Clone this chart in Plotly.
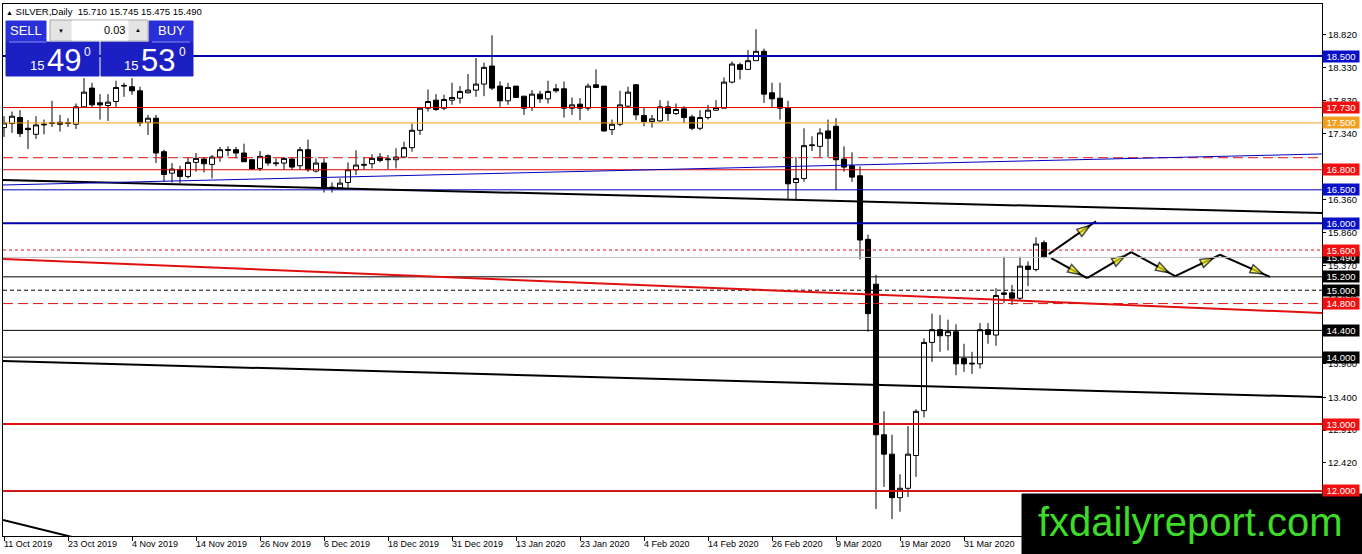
import plotly.graph_objects as go

# daily silver bars, index 0 = 11 Oct 2019
opens = [17.43, 17.49, 17.58, 17.42, 17.33, 17.47, 17.49, 17.51, 17.49, 17.48,
         17.74, 18.02, 17.80, 17.76, 17.82, 18.05, 18.04, 17.98, 17.51, 17.57,
         17.07, 16.75, 16.80, 16.70, 16.91, 16.96, 16.88, 16.99, 17.09, 17.10,
         17.05, 16.95, 16.82, 17.01, 16.89, 16.90, 16.96, 16.86, 17.10, 16.78,
         16.90, 16.54, 16.53, 16.61, 16.80, 16.88, 16.89, 16.99, 16.95, 16.95,
         16.99, 17.13, 17.39, 17.72, 17.84, 17.72, 17.84, 17.87, 17.95, 17.99,
         18.08, 18.35, 18.05, 17.83, 18.05, 17.90, 17.73, 17.93, 17.86, 18.01,
         18.01, 17.72, 17.78, 17.72, 18.07, 18.05, 17.40, 17.48, 17.75, 18.07,
         17.61, 17.52, 17.53, 17.74, 17.64, 17.71, 17.59, 17.42, 17.58, 17.69,
         17.72, 18.11, 18.37, 18.30, 18.43, 18.57, 17.95, 17.87, 17.72, 16.61,
         16.67, 17.16, 17.15, 17.38, 17.45, 16.96, 16.86, 16.71, 15.76, 15.09,
         12.84, 12.55, 11.90, 12.04, 12.53, 13.20, 14.22, 14.41, 14.32, 14.38,
         13.98, 13.91, 13.90, 14.41, 14.33, 14.96, 14.96, 14.88, 15.36, 15.31,
         15.71]
highs = [17.60, 17.67, 17.69, 17.54, 17.60, 17.55, 17.83, 17.62, 17.57, 17.79,
         18.17, 18.10, 17.93, 17.93, 18.13, 18.10, 18.17, 18.04, 17.62, 17.62,
         17.10, 16.90, 16.86, 16.99, 17.05, 16.99, 17.02, 17.14, 17.15, 17.14,
         17.19, 16.95, 17.08, 17.03, 16.97, 16.99, 16.97, 17.14, 17.25, 16.97,
         16.97, 16.61, 16.67, 16.91, 17.09, 16.99, 17.03, 17.05, 17.02, 17.12,
         17.22, 17.49, 17.73, 18.00, 17.93, 17.92, 18.10, 18.05, 18.23, 18.47,
         18.40, 18.81, 18.12, 18.10, 18.05, 17.90, 17.99, 17.98, 18.13, 18.08,
         18.12, 17.88, 17.87, 18.09, 18.30, 18.05, 17.55, 17.98, 18.04, 18.08,
         17.73, 17.62, 17.84, 17.83, 17.79, 17.75, 17.62, 17.69, 17.77, 17.84,
         18.18, 18.42, 18.40, 18.59, 18.90, 18.61, 18.10, 18.10, 17.83, 16.99,
         17.42, 17.30, 17.42, 17.55, 17.57, 17.15, 17.06, 16.85, 15.83, 15.23,
         13.19, 12.84, 12.25, 12.97, 13.22, 14.28, 14.65, 14.63, 14.56, 14.49,
         14.20, 14.08, 14.51, 14.51, 15.03, 15.50, 15.08, 15.50, 15.43, 15.79,
         15.745]
lows = [17.29, 17.35, 17.29, 17.11, 17.26, 17.33, 17.44, 17.37, 17.44, 17.41,
        17.73, 17.73, 17.55, 17.53, 17.73, 17.89, 17.92, 17.45, 17.32, 16.90,
        16.62, 16.61, 16.60, 16.67, 16.77, 16.76, 16.67, 16.92, 17.00, 16.97,
        16.92, 16.80, 16.78, 16.86, 16.85, 16.80, 16.80, 16.80, 16.77, 16.76,
        16.46, 16.46, 16.52, 16.52, 16.72, 16.80, 16.82, 16.91, 16.81, 16.82,
        16.97, 17.07, 17.32, 17.67, 17.68, 17.69, 17.77, 17.79, 17.94, 17.89,
        17.90, 17.99, 17.74, 17.77, 17.87, 17.62, 17.68, 17.80, 17.79, 17.95,
        17.58, 17.62, 17.54, 17.68, 18.02, 17.37, 17.32, 17.45, 17.73, 17.54,
        17.45, 17.43, 17.52, 17.53, 17.62, 17.50, 17.39, 17.39, 17.55, 17.68,
        17.72, 18.09, 18.15, 18.29, 18.43, 17.80, 17.73, 17.55, 16.35, 16.36,
        16.62, 17.08, 16.99, 16.99, 16.50, 16.77, 16.62, 15.46, 14.38, 11.73,
        12.06, 11.58, 11.69, 11.91, 12.21, 13.10, 13.93, 14.08, 14.10, 13.73,
        13.78, 13.75, 13.83, 14.20, 14.17, 14.81, 14.78, 14.85, 15.06, 15.28,
        15.475]
closes = [17.50, 17.60, 17.34, 17.40, 17.47, 17.48, 17.50, 17.48, 17.50, 17.74,
          17.96, 17.77, 17.77, 17.81, 18.03, 18.06, 17.98, 17.50, 17.57, 17.05,
          16.73, 16.81, 16.70, 16.91, 16.97, 16.89, 16.99, 17.10, 17.10, 17.05,
          16.92, 16.81, 17.00, 16.90, 16.90, 16.97, 16.84, 17.10, 16.80, 16.90,
          16.52, 16.53, 16.60, 16.80, 16.87, 16.87, 16.97, 16.94, 16.96, 16.99,
          17.13, 17.39, 17.72, 17.82, 17.70, 17.85, 17.88, 17.97, 17.99, 18.08,
          18.33, 18.02, 17.83, 18.03, 17.88, 17.72, 17.93, 17.86, 17.97, 17.98,
          17.72, 17.77, 17.72, 18.05, 18.03, 17.38, 17.48, 17.77, 17.96, 17.62,
          17.52, 17.56, 17.74, 17.64, 17.70, 17.58, 17.42, 17.58, 17.69, 17.73,
          18.11, 18.38, 18.30, 18.43, 18.57, 17.93, 17.86, 17.72, 16.59, 16.67,
          17.16, 17.17, 17.35, 17.27, 16.95, 16.84, 16.69, 15.75, 14.65, 12.84,
          12.55, 11.90, 12.04, 12.55, 13.19, 14.22, 14.41, 14.32, 14.38, 13.90,
          13.90, 13.90, 14.41, 14.34, 14.92, 14.94, 14.88, 15.36, 15.31, 15.69,
          15.49]

date_bars = [0, 8, 16, 24, 32, 40, 48, 56, 64, 72, 80, 88, 96, 104, 112, 120]
date_labels = ['11 Oct 2019', '23 Oct 2019', '4 Nov 2019', '14 Nov 2019', '26 Nov 2019',
               '6 Dec 2019', '18 Dec 2019', '31 Dec 2019', '13 Jan 2020', '23 Jan 2020',
               '4 Feb 2020', '14 Feb 2020', '26 Feb 2020', '9 Mar 2020', '19 Mar 2020',
               '31 Mar 2020']

price_ticks = [18.82, 18.33, 17.83, 17.34, 16.85, 16.36, 15.86, 15.37, 14.87, 14.38,
               13.90, 13.40, 12.91, 12.42]

# horizontal levels
level_prices = [18.5, 17.73, 17.5, 16.98, 16.8, 16.5, 16.0, 15.6, 15.49, 15.2, 15.0, 14.8,
                14.4, 14.0, 13.0, 12.0]
level_colors = ['#0000A8', '#E00000', '#F0A020', '#E01010', '#E00000', '#0000C0', '#0000A8',
                '#E01010', '#C0C0C0', '#000000', '#000000', '#E01010', '#000000', '#000000',
                '#E01010', '#D01818']
level_widths = [2, 1, 1, 1, 1, 1, 2, 1, 1, 1, 1, 1, 1, 1, 2, 2]
level_dashes = ['solid', 'solid', 'solid', '10px,5px', 'solid', 'solid', 'solid', '3px,3px',
                'solid', 'solid', '4px,3px', '10px,5px', 'solid', 'solid', 'solid', 'solid']
# price boxes on the right scale (level index, box colour)
tag_levels = [8, 0, 1, 2, 4, 5, 6, 7, 9, 10, 11, 12, 13, 14, 15]
tag_colors = ['#000000', '#0A10C8', '#F01010', '#F0A020', '#F01010', '#0A10C8', '#0A10C8',
              '#F01010', '#000000', '#000000', '#F01010', '#000000', '#000000', '#F01010',
              '#F01010']

# trend lines: (bar0, price0, bar1, price1)
trend_lines = [(-0.125, 16.647, 164.75, 16.154),
               (-0.125, 16.572, 164.75, 17.036),
               (-0.125, 15.467, 164.75, 14.660),
               (-0.125, 13.942, 164.75, 13.404),
               (-0.125, 11.567, 20.0, 10.973)]
trend_colors = ['#000000', '#0000C0', '#E01010', '#000000', '#000000']
trend_widths = [2, 1, 2, 2, 2]

# projected path arrows: (bar0, price0, bar1, price1)
arrows = [(130.6, 15.54, 136.5, 16.03),
          (130.9, 15.48, 135.4, 15.18),
          (135.4, 15.18, 140.9, 15.57),
          (140.9, 15.57, 146.4, 15.21),
          (146.4, 15.21, 152.0, 15.53),
          (152.0, 15.53, 158.25, 15.20)]

W, H = 1362, 554
PL, PR, PT, PB = 3, 1322, 4, 536
X_RANGE = [-0.125, 164.75]
Y_RANGE = [11.327, 19.277]
FONT = 'Liberation Sans, Arial, sans-serif'


def px(x):
    return (x - PL) / (PR - PL)


def py(y):
    return (PB - y) / (PB - PT)


fig = go.Figure()

fig.add_trace(go.Candlestick(
    x=list(range(len(opens))), open=opens, high=highs, low=lows, close=closes,
    increasing=dict(line=dict(color='black', width=1), fillcolor='white'),
    decreasing=dict(line=dict(color='black', width=1), fillcolor='black'),
    whiskerwidth=0, hoverinfo='skip', showlegend=False,
))

# arrows: black shaft + yellow head
bar_px = (PR - PL) / (X_RANGE[1] - X_RANGE[0])
price_px = (PB - PT) / (Y_RANGE[1] - Y_RANGE[0])
for x0, y0, x1, y1 in arrows:
    dx, dy = (x1 - x0) * bar_px, (y1 - y0) * price_px
    t = 1 - 7 / (dx * dx + dy * dy) ** 0.5
    fig.add_trace(go.Scatter(
        x=[x0, x1], y=[y0, y1], mode='lines',
        line=dict(color='black', width=2), hoverinfo='skip', showlegend=False))
    fig.add_trace(go.Scatter(
        x=[x0, x0 + (x1 - x0) * t], y=[y0, y0 + (y1 - y0) * t], mode='markers',
        marker=dict(symbol='arrow', size=[0, 14], color='#F5F000',
                    angleref='previous', line=dict(color='black', width=1.5)),
        hoverinfo='skip', showlegend=False))

shapes = []
for p, c, w, d in zip(level_prices, level_colors, level_widths, level_dashes):
    shapes.append(dict(type='line', xref='paper', yref='y', x0=0, x1=1, y0=p, y1=p,
                       line=dict(color=c, width=w, dash=d), layer='above'))
for (x0, y0, x1, y1), c, w in zip(trend_lines, trend_colors, trend_widths):
    shapes.append(dict(type='line', xref='x', yref='y', x0=x0, y0=y0, x1=x1, y1=y1,
                       line=dict(color=c, width=w), layer='above'))


def box(x0, y0, x1, y1, fill, line=None):
    shapes.append(dict(type='rect', xref='paper', yref='paper',
                       x0=px(x0), x1=px(x1), y0=py(y1), y1=py(y0), fillcolor=fill,
                       line=dict(color=line or fill, width=1), layer='above'))


# one-click trading panel
box(6, 21, 46, 42, '#2A30D8')
box(149, 21, 193, 42, '#2A30D8')
box(6, 42, 99, 76, '#1C20C4')
box(101, 42, 193, 76, '#1C20C4')
box(50, 20, 148, 41, '#E4E4E4', '#A8A8A8')
box(72, 21, 128, 40, '#FFFFFF', '#FFFFFF')
shapes.append(dict(type='line', xref='paper', yref='paper', x0=px(9), x1=px(46),
                   y0=py(42), y1=py(42), line=dict(color='#8890F0', width=1), layer='above'))
shapes.append(dict(type='line', xref='paper', yref='paper', x0=px(152), x1=px(190),
                   y0=py(42), y1=py(42), line=dict(color='#8890F0', width=1), layer='above'))

# watermark box
box(1022, 494, 1362, 554, '#000000')

annotations = []


def label(text, x, y, size, color='black', family=FONT, xanchor='center'):
    annotations.append(dict(text=text, xref='paper', yref='paper', x=px(x), y=py(y),
                            xanchor=xanchor, yanchor='middle', showarrow=False,
                            font=dict(size=size, color=color, family=family)))


label("<span style='font-size:7px'>▲</span> SILVER,Daily  15.710 15.745 15.475 15.490",
      4, 11, 9.5, xanchor='left')
label('SELL', 26, 31, 13, 'white')
label('BUY', 171, 31, 13, 'white')
label('0.03', 127, 30, 11, 'black', FONT, 'right')
label('▼', 61, 31, 6, 'black')
label('▲', 138, 30, 6, 'black')
label('15', 37, 65, 13, 'white')
label('49', 64, 60, 31, 'white')
label('0', 87, 52, 12, 'white')
label('15', 131, 65, 13, 'white')
label('53', 158, 60, 31, 'white')
label('0', 182, 52, 12, 'white')

for b, t in zip(date_bars, date_labels):
    annotations.append(dict(text=t, xref='x', yref='paper', x=b, y=0, xanchor='left',
                            yanchor='top', xshift=-2, yshift=-1, showarrow=False,
                            font=dict(size=9, color='black', family=FONT)))

for idx, c in zip(tag_levels, tag_colors):
    annotations.append(dict(text='%.3f' % level_prices[idx], xref='paper', yref='y', x=1,
                            y=level_prices[idx], xanchor='left', yanchor='middle',
                            showarrow=False, bgcolor=c, width=36, height=11, borderpad=0,
                            align='center', font=dict(size=9.5, color='white', family=FONT)))

annotations.append(dict(text='fxdailyreport.com', xref='paper', yref='paper',
                        x=px(1190), y=py(522), xanchor='center', yanchor='middle',
                        showarrow=False,
                        font=dict(size=40, color='#3CDC28', family=FONT)))

fig.update_layout(
    width=W, height=H,
    margin=dict(l=PL, r=W - PR, t=PT, b=H - PB, pad=0),
    paper_bgcolor='white', plot_bgcolor='white',
    boxgap=0.3, boxgroupgap=0.1,
    shapes=shapes, annotations=annotations,
    xaxis=dict(range=X_RANGE, rangeslider=dict(visible=False), showgrid=False,
               zeroline=False, showline=True, mirror=True, linecolor='black', linewidth=1,
               tickmode='array', tickvals=date_bars, showticklabels=False,
               ticks='outside', ticklen=4, tickcolor='black'),
    yaxis=dict(range=Y_RANGE, side='right', showgrid=False, zeroline=False,
               showline=True, mirror=True, linecolor='black', linewidth=1,
               tickmode='array', tickvals=price_ticks,
               ticktext=['%.3f' % v for v in price_ticks],
               ticks='outside', ticklen=3, tickcolor='black', automargin=False,
               tickfont=dict(size=9.5, color='black', family=FONT)),
)

fig.write_html("out.html", config={'displayModeBar': False},
               post_script="document.body.style.margin='0';document.body.style.overflow='hidden';")
